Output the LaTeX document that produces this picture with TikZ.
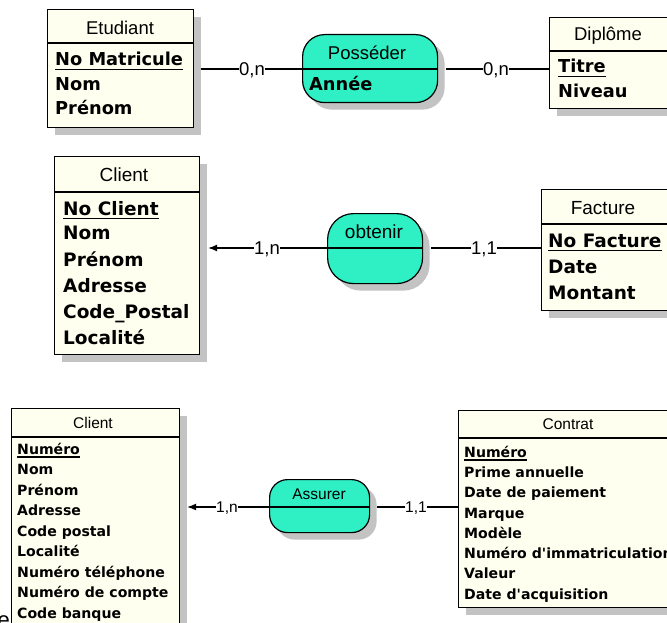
\documentclass[tikz,border=0pt]{standalone}
\usepackage{fontspec}
\setmainfont{Liberation Sans}
\newfontfamily\attrfont{DejaVu Sans}
\usetikzlibrary{arrows.meta,shadows}
\definecolor{entfill}{RGB}{255,255,240}
\definecolor{relfill}{RGB}{46,240,196}
\definecolor{shadowc}{RGB}{195,195,195}
\tikzset{
  shd/.style={drop shadow={shadow xshift=7pt,shadow yshift=-7pt,opacity=1,fill=shadowc}},
  ent/.style={shd,draw=black,line width=1.2pt,fill=entfill,rectangle,anchor=north west,inner sep=0pt},
  rel/.style={shd,draw=black,line width=1.2pt,fill=relfill,rectangle,anchor=north west,inner sep=0pt,rounded corners=#1},
  sep/.style={draw=black,line width=1.2pt},
  conn/.style={draw=black,line width=1.1pt},
  arr/.style={conn,-{Latex[length=9pt,width=7pt]}},
  uline/.style={draw=black,line width=1.3pt},
  hdrA/.style={font=\fontsize{18.5}{20}\selectfont,inner sep=0pt,text height=13.2pt,text depth=0pt},
  hdrB/.style={font=\fontsize{19}{21}\selectfont,inner sep=0pt,text height=13.6pt,text depth=0pt},
  hdrC/.style={font=\fontsize{15.5}{17}\selectfont,inner sep=0pt,text height=11.2pt,text depth=0pt},
  attA/.style={font=\attrfont\bfseries\fontsize{17.8}{20}\selectfont,inner sep=0pt,anchor=base west},
  attB/.style={font=\attrfont\bfseries\fontsize{18.5}{20}\selectfont,inner sep=0pt,anchor=base west},
  attC/.style={font=\attrfont\bfseries\fontsize{14.1}{15}\selectfont,inner sep=0pt,anchor=base west},
  cardA/.style={font=\fontsize{18.5}{20}\selectfont,fill=white,inner sep=0.6pt,text height=13.2pt,text depth=0pt},
  cardC/.style={font=\fontsize{15.5}{17}\selectfont,fill=white,inner sep=0.6pt,text height=11.1pt,text depth=0pt},
}
\begin{document}
\begin{tikzpicture}[x=1pt,y=-1pt]
\fill[white] (0,0) rectangle (667,623);
\useasboundingbox (0,0) rectangle (667,623);
\clip (0,0) rectangle (667,623);

% ---------- top: Etudiant / Posseder / Diplome ----------
\node[ent,minimum width=146pt,minimum height=118pt] (etud) at (47,9) {};
\draw[sep] ([yshift=-34pt]etud.north west) -- ([yshift=-34pt]etud.north east);
\node[hdrA] (etudT) at (120,28) {Etudiant};
\node[attA] (etud1) at (55,66) {No Matricule};
\draw[uline] ([yshift=-3pt]etud1.south west) -- ([yshift=-3pt]etud1.south east);
\node[attA] (etud2) at (55,91) {Nom};
\node[attA] (etud3) at (55,115) {Prénom};

\node[rel=22pt,minimum width=135pt,minimum height=68pt] (poss) at (302,34) {};
\coordinate (possW) at ([yshift=-35pt]poss.north west);
\coordinate (possE) at ([yshift=-35pt]poss.north east);
\draw[sep] (possW) -- (possE);
\node[hdrA] (possT) at (367,52.5) {Posséder};
\node[attA] (poss1) at (309,91) {Année};

\node[ent,minimum width=130pt,minimum height=91pt] (dipl) at (549,17) {};
\draw[sep] ([yshift=-34pt]dipl.north west) -- ([yshift=-34pt]dipl.north east);
\node[hdrA] (diplT) at (608,34) {Diplôme};
\node[attA] (dipl1) at (558,73) {Titre};
\draw[uline] ([yshift=-3pt]dipl1.south west) -- ([yshift=-3pt]dipl1.south east);
\node[attA] (dipl2) at (558,98) {Niveau};

\draw[conn,shorten >=7pt] (possW) -- (possW -| etud.east);
\draw[conn,shorten <=8pt] (possE) -- (possE -| dipl.west);
\node[cardA] (c1) at (252,69) {0,n};
\node[cardA] (c2) at (496,69) {0,n};

% ---------- middle: Client / obtenir / Facture ----------
\node[ent,minimum width=145pt,minimum height=198pt] (cli) at (54,156) {};
\draw[sep] ([yshift=-36pt]cli.north west) -- ([yshift=-36pt]cli.north east);
\node[hdrB] (cliT) at (124,175) {Client};
\node[attB] (cli1) at (63,215) {No Client};
\draw[uline] ([yshift=-3pt]cli1.south west) -- ([yshift=-3pt]cli1.south east);
\node[attB] (cli2) at (63,240) {Nom};
\node[attB] (cli3) at (63,266) {Prénom};
\node[attB] (cli4) at (63,292) {Adresse};
\node[attB] (cli5) at (63,318) {Code\_Postal};
\node[attB] (cli6) at (63,344) {Localité};

\node[rel=26pt,minimum width=95pt,minimum height=70pt] (obt) at (327,213) {};
\coordinate (obtW) at ([yshift=-35pt]obt.north west);
\coordinate (obtE) at ([yshift=-35pt]obt.north east);
\draw[sep] (obtW) -- (obtE);
\node[hdrB] (obtT) at (374,232) {obtenir};

\node[ent,minimum width=150pt,minimum height=121pt] (fac) at (541,189) {};
\draw[sep] ([yshift=-35pt]fac.north west) -- ([yshift=-35pt]fac.north east);
\node[hdrB] (facT) at (603,207.5) {Facture};
\node[attB] (fac1) at (548,247) {No Facture};
\draw[uline] ([yshift=-3pt]fac1.south west) -- ([yshift=-3pt]fac1.south east);
\node[attB] (fac2) at (548,273) {Date};
\node[attB] (fac3) at (548,299) {Montant};

\draw[arr,shorten >=8pt] (obtW) -- (obtW -| cli.east);
\draw[conn,shorten <=8pt] (obtE) -- (obtE -| fac.west);
\node[cardA] (c3) at (267,248) {1,n};
\node[cardA] (c4) at (484,248) {1,1};

% ---------- bottom: Client / Assurer / Contrat ----------
\node[ent,minimum width=168pt,minimum height=240pt] (clb) at (11,408) {};
\draw[sep] ([yshift=-29pt]clb.north west) -- ([yshift=-29pt]clb.north east);
\node[hdrC] (clbT) at (93,423) {Client};
\node[attC] (clb1) at (17,454) {Numéro};
\draw[uline] ([yshift=-2.5pt]clb1.south west) -- ([yshift=-2.5pt]clb1.south east);
\node[attC] (clb2) at (17,474.5) {Nom};
\node[attC] (clb3) at (17,495) {Prénom};
\node[attC] (clb4) at (17,515.5) {Adresse};
\node[attC] (clb5) at (17,536) {Code postal};
\node[attC] (clb6) at (17,556.5) {Localité};
\node[attC] (clb7) at (17,577) {Numéro téléphone};
\node[attC] (clb8) at (17,597.5) {Numéro de compte};
\node[attC] (clb9) at (17,618) {Code banque};

\node[rel=18pt,minimum width=100pt,minimum height=53pt] (ass) at (269,479) {};
\coordinate (assW) at ([yshift=-28pt]ass.north west);
\coordinate (assE) at ([yshift=-28pt]ass.north east);
\draw[sep] (assW) -- (assE);
\node[hdrC] (assT) at (319,493.5) {Assurer};

\node[ent,minimum width=260pt,minimum height=197pt] (con) at (458,410) {};
\draw[sep] ([yshift=-28pt]con.north west) -- ([yshift=-28pt]con.north east);
\node[hdrC] (conT) at (568,424) {Contrat};
\node[attC] (con1) at (464,457) {Numéro};
\draw[uline] ([yshift=-2.5pt]con1.south west) -- ([yshift=-2.5pt]con1.south east);
\node[attC] (con2) at (464,477.3) {Prime annuelle};
\node[attC] (con3) at (464,497.6) {Date de paiement};
\node[attC] (con4) at (464,518) {Marque};
\node[attC] (con5) at (464,538.2) {Modèle};
\node[attC] (con6) at (464,558.5) {Numéro d'immatriculation};
\node[attC] (con7) at (464,578.8) {Valeur};
\node[attC] (con8) at (464,599) {Date d'acquisition};

\draw[arr,shorten >=7pt] (assW) -- (assW -| clb.east);
\draw[conn,shorten <=7pt] (assE) -- (assE -| con.west);
\node[cardC] (c5) at (227,507) {1,n};
\node[cardC] (c6) at (416,507) {1,1};

% stray fragment at lower left (cut off in the reference too)
\node[font=\fontsize{22}{24}\selectfont,inner sep=0pt,anchor=base east] (stray) at (10,627) {e};
\end{tikzpicture}
\end{document}
